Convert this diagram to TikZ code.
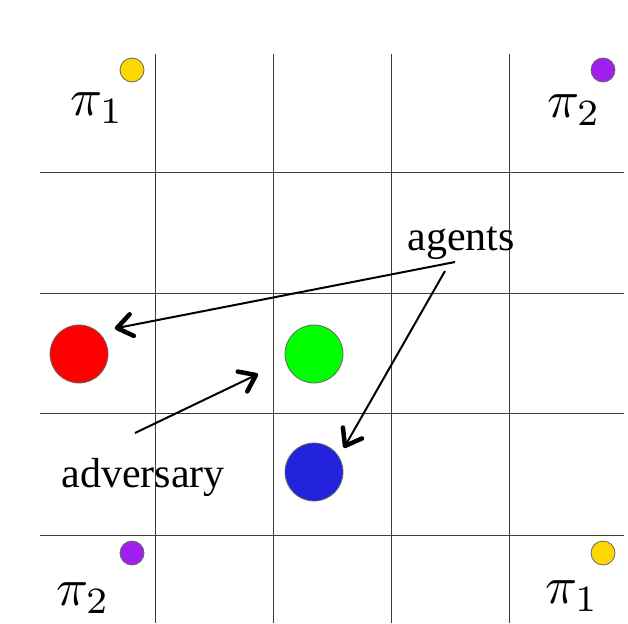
\documentclass[tikz,border=0pt]{standalone}
\usepackage{fontspec}
\setmainfont{Liberation Serif}
\usetikzlibrary{decorations.markings}
\definecolor{gridgray}{RGB}{60,60,60}
\definecolor{tokyellow}{RGB}{255,215,0}
\definecolor{tokpurple}{RGB}{160,32,240}
\definecolor{agred}{RGB}{255,0,0}
\definecolor{aggreen}{RGB}{0,255,0}
\definecolor{agblue}{RGB}{35,35,220}
\tikzset{
  gridline/.style={draw=gridgray, line width=1pt},
  token/.style={circle, draw=black!60, line width=0.8pt, minimum size=24pt, inner sep=0pt},
  agent/.style={circle, draw=black!60, line width=0.8pt, minimum size=58pt, inner sep=0pt},
  pilabel/.style={inner sep=0pt, scale=5.3},
  word/.style={inner sep=0pt, font=\fontsize{42}{50}\selectfont},
  pointer/.style={draw=black, line width=2pt,
    postaction={decorate, decoration={markings, mark=at position 1 with {
      \draw[line width=4.5pt, line cap=round, line join=round] (-15pt,11pt) -- (0pt,0pt) -- (-15pt,-11pt);}}}}
}
\begin{document}
\begin{tikzpicture}[x=1pt, y=-1pt]
\useasboundingbox (0,0) rectangle (628,623);
% grid
\foreach \xx in {155,273,391,509} { \draw[gridline] (\xx,54) -- (\xx,623); }
\foreach \yy in {172,293,413,535} { \draw[gridline] (40,\yy) -- (624,\yy); }
% corner tokens
\node[token, fill=tokyellow] (ytl) at (132,70) {};
\node[token, fill=tokpurple] (ptr) at (603,70) {};
\node[token, fill=tokpurple] (pbl) at (132,553) {};
\node[token, fill=tokyellow] (ybr) at (603,553) {};
% labels
\node[pilabel] (l1) at (97,108) {$\pi_1$};
\node[pilabel] (l2) at (574,110) {$\pi_2$};
\node[pilabel] (l3) at (83,598) {$\pi_2$};
\node[pilabel] (l4) at (572,596) {$\pi_1$};
% agents
\node[agent, fill=agred] (red) at (79,354) {};
\node[agent, fill=aggreen] (green) at (314,354) {};
\node[agent, fill=agblue] (blue) at (314,472) {};
% texts
\node[word] (agents) at (461,243) {agents};
\node[word] (adv) at (143,477) {adversary};
\coordinate (a1) at (455,262);
\coordinate (a2) at (445,271);
\coordinate (redend) at (117,328);
\coordinate (blueend) at (345,446);
\coordinate (advstart) at (135,433);
\coordinate (advend) at (256,375);
\draw[pointer] (a1) -- (redend);
\draw[pointer] (a2) -- (blueend);
\draw[pointer] (advstart) -- (advend);
\end{tikzpicture}
\end{document}
